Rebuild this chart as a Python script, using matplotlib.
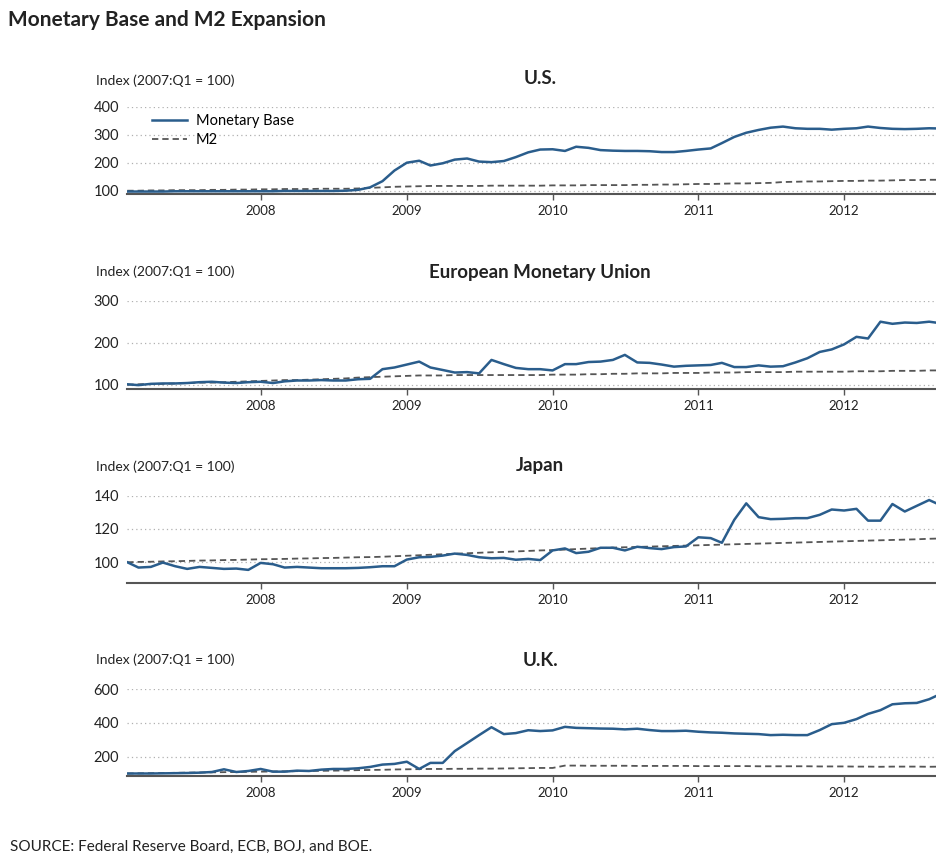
import matplotlib
matplotlib.use("Agg")
import matplotlib.pyplot as plt
import matplotlib.dates as mdates
import pandas as pd

plt.rcParams['font.family'] = ['Lato', 'DejaVu Sans']

# Monthly observations, Feb 2007 .. Sep 2012
dates = pd.date_range('2007-02-01', periods=68, freq='MS')

us_mb = [97, 97, 97, 97, 98, 98, 98, 98, 98, 98, 98,
         98, 98, 99, 99, 99, 99, 99, 100,
         103, 112, 134, 172, 200, 207, 190, 198, 211, 215, 204, 202, 206, 220, 237, 247,
         248, 242, 257, 253, 245, 243, 242, 242, 241, 238, 238, 242,
         247, 251, 270, 292, 307, 317, 325, 329, 323, 321, 321, 318,
         321, 323, 329, 324, 321, 320, 321, 323, 322]
us_m2 = [100, 100, 101, 101, 102, 102, 102, 103, 103, 104, 104,
         105, 105, 106, 106, 106, 107, 107, 107, 108, 110, 112, 114,
         115, 116, 117, 117, 117, 117, 117, 118, 118, 118, 118, 118,
         119, 119, 119, 120, 120, 120, 120, 121, 121, 122, 122, 123,
         124, 124, 125, 126, 126, 127, 128, 131, 132, 133, 133, 134,
         135, 135, 136, 136, 137, 138, 138, 139, 139]

emu_mb = [101, 99, 102, 103, 103, 104, 106, 107, 105, 104, 106,
          107, 104, 108, 110, 110, 111, 110, 110, 113, 114, 137, 141,
          148, 155, 141, 135, 129, 130, 127, 159, 149, 140, 137, 137,
          134, 149, 149, 154, 155, 159, 171, 153, 152, 148, 143, 145,
          146, 147, 152, 142, 142, 146, 143, 144, 153, 163, 178, 184,
          196, 214, 210, 250, 245, 248, 247, 250, 246]
emu_m2 = [100, 101, 102, 102, 103, 104, 105, 105, 106, 107, 108,
          109, 110, 111, 111, 112, 113, 114, 115, 117, 118, 119, 120,
          121, 122, 122, 122, 123, 123, 123, 123, 123, 123, 123, 123,
          124, 124, 124, 125, 125, 126, 126, 127, 127, 127, 128, 128,
          128, 129, 129, 129, 130, 130, 130, 130, 131, 131, 131, 131,
          131, 132, 132, 132, 133, 133, 133, 134, 134]

jp_mb = [100, 96.8, 97.2, 99.8, 97.6, 96.0, 97.2, 96.6, 96.0, 96.2, 95.4,
         99.6, 98.8, 96.8, 97.2, 96.8, 96.4, 96.4, 96.4, 96.6, 97.0, 97.6, 97.6,
         101.6, 103.0, 103.2, 104.0, 105.2, 104.4, 103.0, 102.4, 102.6, 101.5, 102.0, 101.3,
         107.1, 108.3, 105.5, 106.3, 108.7, 108.7, 107.1, 109.3, 108.5, 107.9, 109.1, 109.5,
         115.0, 114.5, 111.7, 125.5, 135.4, 127.1, 125.9, 126.1, 126.5, 126.5, 128.5, 131.7,
         131.1, 132.1, 125.0, 125.0, 135.0, 130.5, 133.9, 137.4, 134.0]
jp_m2 = [100.0, 100.2, 100.3, 100.5, 100.6, 100.8, 101.0, 101.1, 101.3, 101.4, 101.6,
         101.8, 101.9, 102.0, 102.2, 102.3, 102.5, 102.6, 102.8, 103.0, 103.1, 103.3, 103.6,
         103.9, 104.2, 104.5, 104.8, 105.1, 105.4, 105.7, 106.0, 106.2, 106.5, 106.8, 107.1,
         107.3, 107.6, 107.9, 108.2, 108.5, 108.8, 109.0, 109.2, 109.4, 109.6, 109.8, 110.0,
         110.2, 110.4, 110.6, 110.8, 111.0, 111.2, 111.4, 111.6, 111.8, 112.0, 112.2, 112.4,
         112.6, 112.8, 113.0, 113.2, 113.4, 113.6, 113.8, 114.1, 114.3]

uk_mb = [100, 100, 100, 101, 102, 103, 105, 109, 125, 109, 115,
         127, 111, 111, 117, 115, 123, 127, 127, 131, 139, 153, 157,
         170, 127, 163, 163, 233, 281, 328, 375, 334, 340, 357, 352,
         356, 377, 371, 369, 367, 366, 362, 366, 358, 352, 352, 354,
         348, 344, 342, 338, 336, 334, 328, 330, 328, 328, 358, 393,
         401, 423, 454, 476, 511, 517, 519, 541, 575]
uk_m2 = [100, 101, 102, 103, 104, 105, 106, 107, 108, 109, 110,
         111, 112, 113, 114, 115, 116, 117, 118, 120, 121, 122, 124,
         125, 126, 127, 127, 128, 128, 129, 129, 130, 131, 132, 133,
         133, 147, 147, 146, 146, 146, 146, 145, 145, 145, 145, 145,
         144, 144, 144, 144, 144, 143, 143, 143, 143, 143, 142, 142,
         142, 141, 141, 140, 141, 141, 141, 140, 141]

panels = [
    ("U.S.", us_mb, us_m2, [100, 200, 300, 400], (89.3, 400)),
    ("European Monetary Union", emu_mb, emu_m2, [100, 200, 300], (90.5, 300)),
    ("Japan", jp_mb, jp_m2, [100, 120, 140], (87.7, 140)),
    ("U.K.", uk_mb, uk_m2, [200, 400, 600], (87.0, 600)),
]
# axes top/bottom in pixels (figure 937 x 857)
axes_px = [(106.7, 193.7), (300.7, 388.7), (495.7, 582.7), (689.3, 775.7)]
label_y_px = [81, 272, 467, 660]
title_y_px = [79, 272, 465, 660]

W, H = 937, 857
fig = plt.figure(figsize=(W / 100, H / 100), dpi=100)
fig.patch.set_facecolor('white')

MB_COLOR = '#2a5d8c'
left_px, right_px = 127.3, 953.5

for i, (name, mb, m2, yticks, ylim) in enumerate(panels):
    top, bot = axes_px[i]
    ax = fig.add_axes([left_px / W, 1 - bot / H, (right_px - left_px) / W, (bot - top) / H])
    ax.plot(dates, m2, color='#555555', lw=1.3, dashes=(3.5, 2.2), label='M2', zorder=2)
    ax.plot(dates, mb, color=MB_COLOR, lw=1.8, label='Monetary Base', zorder=3)
    ax.set_ylim(*ylim)
    ax.set_xlim(pd.Timestamp('2007-02-01'), pd.Timestamp('2012-10-01'))
    ax.set_yticks(yticks)
    ax.yaxis.grid(True, color='#b0b0b0', lw=0.9, ls=(0, (1, 2.5)))
    ax.set_axisbelow(True)
    ax.xaxis.set_major_locator(mdates.YearLocator())
    ax.xaxis.set_major_formatter(mdates.DateFormatter('%Y'))
    for s in ['top', 'right', 'left']:
        ax.spines[s].set_visible(False)
    ax.spines['bottom'].set_color('#555555')
    ax.spines['bottom'].set_linewidth(1.5)
    ax.tick_params(axis='x', direction='out', length=4, width=1.0, color='#555555',
                   labelsize=9.5, pad=4, labelcolor='#222222')
    ax.tick_params(axis='y', length=0, labelsize=10.5, pad=6, labelcolor='#222222')
    ax.patch.set_alpha(0)

    fig.text(96 / W, 1 - label_y_px[i] / H, "Index (2007:Q1 = 100)", fontsize=10,
             ha='left', va='center', color='#222222')
    fig.text(540 / W, 1 - title_y_px[i] / H, name, fontsize=13.5, fontweight='bold',
             ha='center', va='center', color='#222222')

    if i == 0:
        h, l = ax.get_legend_handles_labels()
        ax.legend(h[::-1], l[::-1], loc='upper left', bbox_to_anchor=(0.03, 0.92),
                  frameon=False, fontsize=10.5, handlelength=2.4, handletextpad=0.6,
                  labelspacing=0.4, borderpad=0, borderaxespad=0)

fig.text(8 / W, 1 - 20 / H, "Monetary Base and M2 Expansion", fontsize=15,
         fontweight='bold', ha='left', va='center', color='#222222')
fig.text(10 / W, 1 - 847 / H, "SOURCE: Federal Reserve Board, ECB, BOJ, and BOE.",
         fontsize=11, ha='left', va='center', color='#222222')

fig.savefig('out.png', dpi=100, facecolor='white')
